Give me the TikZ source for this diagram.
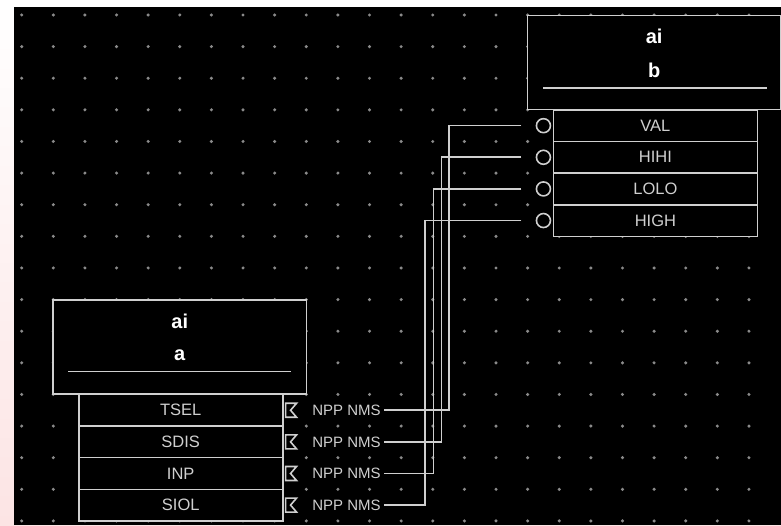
\documentclass[tikz,border=0pt]{standalone}
\usepackage{fontspec}
\setmainfont{Liberation Sans}
\usetikzlibrary{positioning}
\definecolor{wire}{HTML}{CFCFCF}
\definecolor{griddot}{HTML}{8A8A8A}
\definecolor{strip}{HTML}{FCE4E4}

\begin{document}
\begin{tikzpicture}
  [x=31.62pt,y=-31.62pt,
  line/.style={draw=wire,line width=1.6pt},
  block/.style={line,fill=black,minimum width=253pt,minimum height=94pt,inner sep=0pt},
  field/.style={line,fill=black,minimum width=204pt,minimum height=31.62pt,inner sep=0pt,
    text=wire,font=\fontsize{16.5}{16.5}\selectfont},
  title/.style={text=white,font=\bfseries\fontsize{20}{20}\selectfont},
  port/.style={circle,draw=wire,fill=black,line width=1.6pt,minimum size=14pt,inner sep=0pt,outer sep=15pt},
  tag/.style={text=wire,font=\fontsize{15}{15}\selectfont,minimum width=75pt,inner sep=0pt}]
  % sheet and grid
  \useasboundingbox (-0.686,-0.474) rectangle (24.013,16.13);
  \shade[top color=white,bottom color=strip] (-0.686,-0.474) rectangle (24.013,16.13);
  \fill (-0.2435,-0.253) rectangle (24.013,16.13);
  \foreach \i in {0,...,23}
    \foreach \j in {0,...,16}
      \fill[griddot] (\i,\j) circle (1.7pt);
  % record a
  \node[block] (ba) at (5,10.5) {};
  \node[title] (ba1) at (5,9.7) {ai};
  \node[title] (ba2) at (5,10.77) {a};
  \draw[line] (1.47,11.28) -- (8.53,11.28);
  \foreach \lbl [count=\k] in {TSEL,SDIS,INP,SIOL}
    \node[field] (fa\k) at (5.03,11.5+\k) {\lbl};
  \foreach \k in {1,...,4}{
    \draw[line] ([xshift=2pt]fa\k.east) ++(0,7pt) -- ++(11pt,0) -- ++(-6pt,-7pt)
      -- ++(6pt,-7pt) -- ++(-11pt,0) -- cycle;
    \node[tag] (ta\k) at (10.27,11.5+\k) {NPP NMS};
  }
  % record b
  \node[block] (bb) at (20,1.5) {};
  \node[title] (bb1) at (20,0.69) {ai};
  \node[title] (bb2) at (20,1.74) {b};
  \draw[line] (16.5,2.3) -- (23.56,2.3);
  \foreach \lbl [count=\k] in {VAL,HIHI,LOLO,HIGH}
    \node[field] (fb\k) at (20.04,2.5+\k) {\lbl};
  \foreach \k in {1,...,4}
    \node[port] (pb\k) at (16.5,2.5+\k) {};
  % links
  \foreach \k/\u in {1/13.52,2/13.27,3/13.02,4/12.75}
    \draw[line] (pb\k.west) -- (\u,2.5+\k) |- (ta\k.east);
\end{tikzpicture}
\end{document}
